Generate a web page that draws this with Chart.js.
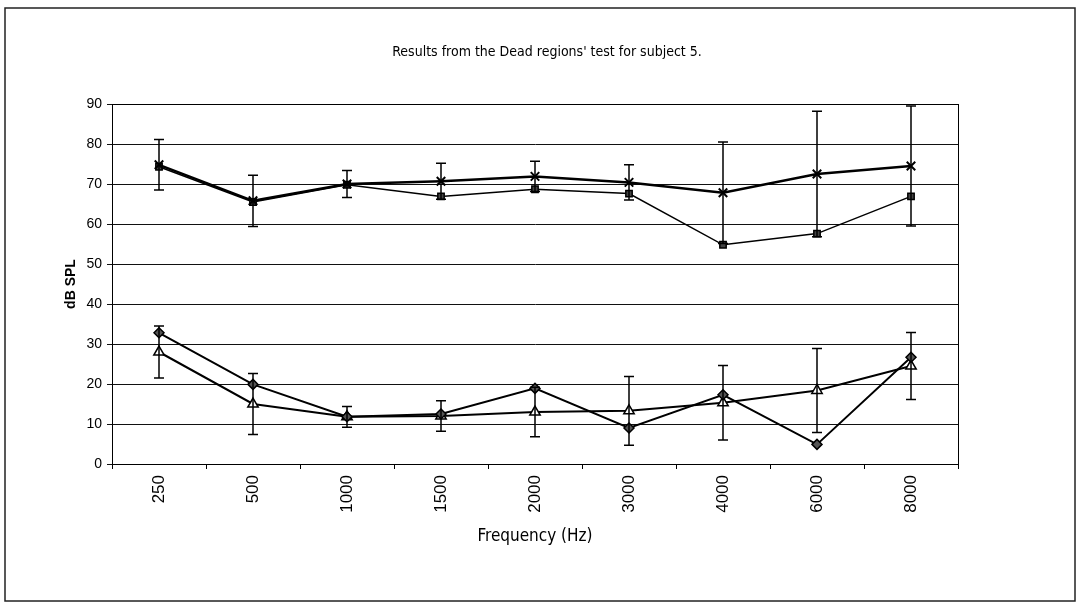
<!DOCTYPE html>
<html>
<head>
<meta charset="utf-8">
<script src="https://cdn.jsdelivr.net/npm/chart.js@4/dist/chart.umd.min.js"></script>
<style>
html,body{margin:0;padding:0;background:#fff;}
#wrap{width:1079px;height:607px;position:relative;}
</style>
</head>
<body>
<div id="wrap"><canvas id="c" width="1079" height="607"></canvas></div>
<script>
// ---- data ----
const categories = ['250','500','1000','1500','2000','3000','4000','6000','8000'];
const crossValues    = [74.8, 65.8, 70.0, 70.7, 71.9, 70.4, 67.8, 72.5, 74.5];
const crossErrors    = [6.3, 6.4, 3.4, 4.5, 3.8, 4.4, 12.7, 15.7, 15.0];
const squareValues   = [74.3, 65.5, 69.8, 66.9, 68.7, 67.6, 54.8, 57.6, 66.9];
const diamondValues  = [32.8, 19.9, 11.8, 12.5, 18.9, 9.0, 17.3, 4.9, 26.7];
const triangleValues = [28.0, 15.0, 11.8, 12.0, 13.0, 13.3, 15.3, 18.4, 24.5];
const triangleErrors = [6.5, 7.6, 2.6, 3.8, 6.2, 8.6, 9.3, 10.5, 8.4];
const yMin = 0, yMax = 90, yStep = 10;
const titleText = "Results from the Dead regions' test for subject 5.";
const xTitleText = 'Frequency (Hz)';
const yTitleText = 'dB SPL';

const narrowFont = "'DejaVu Sans Condensed', 'Liberation Sans Narrow', 'Arial Narrow', 'Liberation Sans', sans-serif";

// ---- plugins ----
const errorBars = {
  id: 'errorBars',
  afterDatasetsDraw(chart) {
    const {ctx, scales: {x, y}} = chart;
    ctx.save();
    ctx.strokeStyle = '#000';
    ctx.lineWidth = 1.5;
    chart.data.datasets.forEach(ds => {
      if (!ds.errors) return;
      ds.data.forEach((v, i) => {
        const e = ds.errors[i];
        const px = x.getPixelForValue(i);
        const top = y.getPixelForValue(v + e);
        const bot = y.getPixelForValue(v - e);
        ctx.beginPath();
        ctx.moveTo(px, top); ctx.lineTo(px, bot);
        ctx.moveTo(px - 5, top); ctx.lineTo(px + 5, top);
        ctx.moveTo(px - 5, bot); ctx.lineTo(px + 5, bot);
        ctx.stroke();
      });
    });
    ctx.restore();
  }
};
const frame = {
  id: 'frame',
  beforeDraw(chart) {
    const {ctx} = chart;
    ctx.save();
    ctx.fillStyle = '#fff';
    ctx.fillRect(0, 0, chart.width, chart.height);
    ctx.restore();
  },
  afterDraw(chart) {
    const {ctx, chartArea: a} = chart;
    ctx.save();
    ctx.strokeStyle = '#000';
    ctx.lineWidth = 1;
    ctx.strokeRect(a.left + 0.5, a.top + 0.5, a.right - a.left, a.bottom - a.top);
    ctx.lineWidth = 1.5;
    ctx.strokeStyle = '#222';
    ctx.strokeRect(5, 8, chart.width - 9, chart.height - 14);
    // chart title
    ctx.fillStyle = '#000';
    ctx.font = "14px " + narrowFont;
    ctx.textAlign = 'center';
    ctx.textBaseline = 'middle';
    ctx.fillText(titleText, 547, 52);
    ctx.restore();
  }
};

const common = {fill: false, tension: 0, borderColor: '#000', pointBorderColor: '#000'};

new Chart(document.getElementById('c'), {
  type: 'line',
  data: {
    labels: categories,
    datasets: [
      Object.assign({}, common, {label: 'cross', data: crossValues, errors: crossErrors,
        borderWidth: 2.5, pointStyle: 'crossRot', pointRadius: 6, pointBorderWidth: 2}),
      Object.assign({}, common, {label: 'square', data: squareValues,
        borderWidth: 1.5, pointStyle: 'rect', pointRadius: 4.5, pointBackgroundColor: '#444', pointBorderWidth: 1.5}),
      Object.assign({}, common, {label: 'diamond', data: diamondValues,
        borderWidth: 2, pointStyle: 'rectRot', pointRadius: 5, pointBackgroundColor: '#555', pointBorderWidth: 1.5}),
      Object.assign({}, common, {label: 'triangle', data: triangleValues, errors: triangleErrors,
        borderWidth: 2, pointStyle: 'triangle', pointRadius: 6, pointBackgroundColor: '#fff', pointBorderWidth: 1.5})
    ]
  },
  options: {
    responsive: false,
    animation: false,
    devicePixelRatio: 1,
    layout: {padding: {left: 0, right: 121, top: 104, bottom: 0}},
    plugins: {
      legend: {display: false},
      tooltip: {enabled: false},
      title: {display: false}
    },
    scales: {
      x: {
        type: 'category',
        offset: true,
        grid: {display: true, drawOnChartArea: false, drawTicks: true, tickLength: 5, color: '#000', offset: true},
        border: {display: true, color: '#000', width: 1},
        ticks: {minRotation: 90, maxRotation: 90, autoSkip: false, color: '#000', padding: 6,
          font: {family: 'Liberation Sans', size: 17}},
        title: {display: true, text: xTitleText, color: '#000',
          font: {family: narrowFont, size: 17, lineHeight: 1.2},
          padding: {top: 0, bottom: 60}},
        afterFit(s) { s.height = 143; }
      },
      y: {
        min: yMin, max: yMax,
        ticks: {stepSize: yStep, color: '#000', padding: 5, font: {family: 'Liberation Sans', size: 14}},
        grid: {color: '#111', lineWidth: 1, tickLength: 5},
        border: {display: true, color: '#000', width: 1},
        title: {display: true, text: yTitleText, color: '#000',
          font: {family: 'Liberation Sans', size: 14, weight: 'bold', lineHeight: 1.2},
          padding: {top: 63, bottom: 0}},
        afterFit(s) { s.width = 112; }
      }
    }
  },
  plugins: [frame, errorBars]
});
</script>
</body>
</html>
